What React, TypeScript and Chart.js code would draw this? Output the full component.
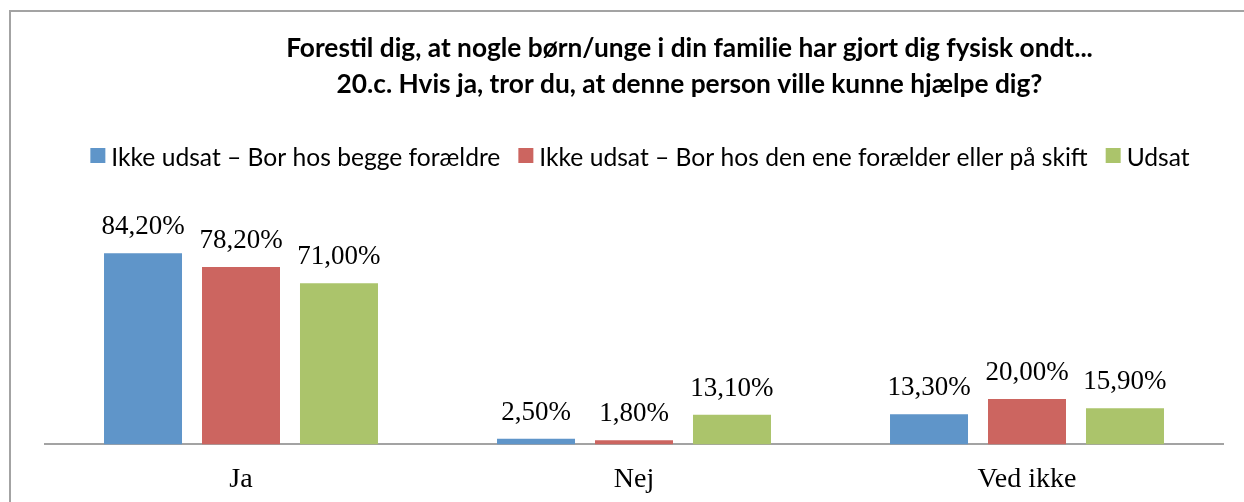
import React, { useEffect, useRef } from 'react';
import { Chart, registerables } from 'chart.js';

Chart.register(...registerables);

const W = 1244;
const H = 502;

const categories = ['Ja', 'Nej', 'Ved ikke'];
const seriesNames = [
  'Ikke udsat – Bor hos begge forældre',
  'Ikke udsat – Bor hos den ene forælder eller på skift',
  'Udsat',
];
const blueValues = [84.2, 2.5, 13.3];
const redValues = [78.2, 1.8, 20.0];
const greenValues = [71.0, 13.1, 15.9];
const seriesColors = ['#5F95C9', '#CC6560', '#ABC46B'];
const titleLines = [
  'Forestil dig, at nogle børn/unge i din familie har gjort dig fysisk ondt...',
  '20.c. Hvis ja, tror du, at denne person ville kunne hjælpe dig?',
];

const fmt = (v: number) => v.toFixed(2).replace('.', ',') + '%';

export default function App() {
  const ref = useRef<HTMLCanvasElement>(null);

  useEffect(() => {
    document.body.style.margin = '0';
    const canvas = ref.current;
    if (!canvas) return;

    const framePlugin = {
      id: 'frame',
      beforeDraw(chart: any) {
        const c = chart.ctx;
        c.save();
        c.fillStyle = '#ffffff';
        c.fillRect(0, 0, W, H);
        c.strokeStyle = '#A3A3A3';
        c.lineWidth = 2;
        c.beginPath();
        c.moveTo(10, H + 5);
        c.lineTo(10, 11);
        c.lineTo(W + 5, 11);
        c.stroke();
        c.restore();
      },
    };

    const titlePlugin = {
      id: 'customTitle',
      afterDraw(chart: any) {
        const c = chart.ctx;
        c.save();
        c.font = 'bold 20px Lato';
        const w = c.measureText(titleLines[0]).width;
        const size = (20 * 807) / w;
        c.font = `bold ${size}px Lato`;
        c.fillStyle = '#000';
        c.textAlign = 'center';
        c.textBaseline = 'alphabetic';
        c.fillText(titleLines[0], 689.5, 57);
        c.fillText(titleLines[1], 689.5, 93);
        c.restore();
      },
    };

    const legendPlugin = {
      id: 'customLegend',
      afterDraw(chart: any) {
        const c = chart.ctx;
        c.save();
        c.font = '22px Lato';
        const base = seriesNames.reduce((s, n) => s + c.measureText(n).width, 0);
        const box = 15;
        const gapText = 6;
        const gapItem = 18;
        const fixed = seriesNames.length * (box + gapText) + (seriesNames.length - 1) * gapItem;
        const k = (1100 - fixed) / base;
        const size = 22 * k;
        c.font = `${size}px Lato`;
        const widths = seriesNames.map((n) => c.measureText(n).width);
        const total = fixed + widths.reduce((a, b) => a + b, 0);
        let x = 640 - total / 2;
        c.textBaseline = 'alphabetic';
        c.textAlign = 'left';
        seriesNames.forEach((n, i) => {
          c.fillStyle = seriesColors[i];
          c.fillRect(x, 148, box, box);
          x += box + gapText;
          c.fillStyle = '#000';
          c.fillText(n, x, 166);
          x += widths[i] + gapItem;
        });
        c.restore();
      },
    };

    const labelPlugin = {
      id: 'valueLabels',
      afterDatasetsDraw(chart: any) {
        const c = chart.ctx;
        c.save();
        c.font = '27px "Liberation Serif"';
        c.fillStyle = '#000';
        c.textAlign = 'center';
        c.textBaseline = 'alphabetic';
        chart.data.datasets.forEach((ds: any, di: number) => {
          const meta = chart.getDatasetMeta(di);
          meta.data.forEach((el: any, i: number) => {
            c.fillText(fmt(ds.data[i]), el.x, el.y - 19);
          });
        });
        c.restore();
      },
    };

    const chart = new Chart(canvas, {
      type: 'bar',
      data: {
        labels: categories,
        datasets: [
          { label: seriesNames[0], data: blueValues, backgroundColor: seriesColors[0] },
          { label: seriesNames[1], data: redValues, backgroundColor: seriesColors[1] },
          { label: seriesNames[2], data: greenValues, backgroundColor: seriesColors[2] },
        ],
      },
      options: {
        animation: false,
        responsive: false,
        devicePixelRatio: 1,
        datasets: {
          bar: { categoryPercentage: 0.748, barPercentage: 0.796 },
        },
        layout: {
          padding: { top: 217.5, left: 44.5, right: 20.5, bottom: -13 },
        },
        plugins: {
          legend: { display: false },
          title: { display: false },
          tooltip: { enabled: false },
        },
        scales: {
          x: {
            grid: { display: false, drawTicks: false },
            border: { display: true, color: '#A3A3A3', width: 2 },
            ticks: {
              color: '#000',
              padding: 18.5,
              font: { family: 'Liberation Serif', size: 28 },
            },
          },
          y: {
            display: false,
            min: 0,
            max: 100,
          },
        },
      },
      plugins: [framePlugin, titlePlugin, legendPlugin, labelPlugin],
    });

    return () => chart.destroy();
  }, []);

  return <canvas ref={ref} width={W} height={H} style={{ display: 'block', width: W, height: H }} />;
}
